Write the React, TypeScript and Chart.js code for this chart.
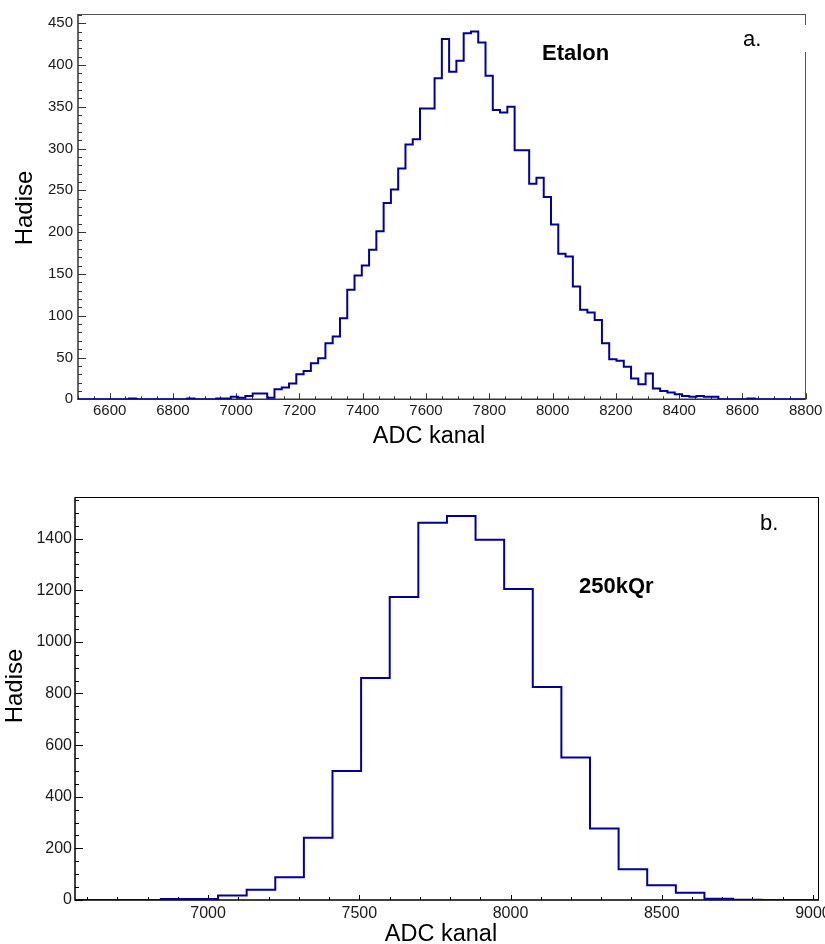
import React, { useEffect, useRef } from "react";
import { Chart, registerables } from "chart.js";

Chart.register(...registerables);

const FONT = "'Liberation Sans', Arial, Helvetica, sans-serif";
const LINE_COLOR = "#00009c";

// ---------- Panel a: Etalon ----------
const A_BIN_START = 6500;
const A_BIN_WIDTH = 23;
const A_COUNTS = [
  0, 0, 0, 0, 0, 0, 0, 1, 0, 0,
  0, 0, 0, 0, 0, 1, 0, 0, 0, 1,
  1, 3, 2, 4, 7, 7, 2, 12, 14, 19,
  30, 34, 43, 49, 67, 75, 97, 131, 148, 160,
  179, 201, 235, 251, 276, 305, 311, 348, 348, 384,
  431, 392, 405, 438, 440, 427, 387, 346, 343, 350,
  298, 298, 258, 265, 242, 209, 174, 171, 135, 107,
  104, 95, 67, 48, 46, 39, 25, 18, 31, 13,
  10, 8, 6, 4, 3, 4, 3, 3, 0, 0,
  0, 0, 1, 0, 0, 0, 0, 0, 0, 0,
];
const A_X_MIN = 6500;
const A_X_MAX = 8800;
const A_Y_MIN = 0;
const A_Y_MAX = 461;
const A_X_TICKS = [6600, 6800, 7000, 7200, 7400, 7600, 7800, 8000, 8200, 8400, 8600, 8800];
const A_Y_TICKS = [0, 50, 100, 150, 200, 250, 300, 350, 400, 450];
const A_X_TITLE = "ADC kanal";
const A_Y_TITLE = "Hadise";
const A_LABEL = "Etalon";
const A_TAG = "a.";

// ---------- Panel b: 250kQr ----------
const B_BIN_START = 6560;
const B_BIN_WIDTH = 94.6;
const B_COUNTS = [
  0, 0, 0, 4, 4, 17, 40, 88, 241, 500,
  860, 1174, 1461, 1488, 1396, 1205, 825, 552, 277, 119,
  57, 28, 5, 1, 0, 0,
];
const B_X_MIN = 6560;
const B_X_MAX = 9020;
const B_Y_MIN = 0;
const B_Y_MAX = 1560;
const B_X_TICKS = [7000, 7500, 8000, 8500, 9000];
const B_Y_TICKS = [0, 200, 400, 600, 800, 1000, 1200, 1400];
const B_X_TITLE = "ADC kanal";
const B_Y_TITLE = "Hadise";
const B_LABEL = "250kQr";
const B_TAG = "b.";

function histPoints(start: number, width: number, counts: number[]) {
  const pts = counts.map((c, i) => ({ x: start + i * width, y: c }));
  pts.push({ x: start + counts.length * width, y: counts[counts.length - 1] });
  return pts;
}

type Txt = { text: string; x: number; y: number; size: number; bold?: boolean; align?: CanvasTextAlign; rotate?: boolean; color?: string };

type PanelCfg = {
  pageTop: number;
  width: number;
  height: number;
  area: { left: number; top: number; right: number; bottom: number };
  binStart: number;
  binWidth: number;
  counts: number[];
  xMin: number; xMax: number; yMin: number; yMax: number;
  xTicks: number[]; yTicks: number[];
  xMinor: number; yMinor: number;
  xMajLen: number; xMinLen: number; yMajLen: number; yMinLen: number;
  axisColor: string; boxColor: string;
  xPad: number; yPad: number;
  tickFont: number;
  texts: Txt[];
  gap?: { x: number; y: number; w: number; h: number };
};

const PANEL_A: PanelCfg = {
  pageTop: 0,
  width: 825,
  height: 470,
  area: { left: 78, top: 14, right: 805.7, bottom: 399.3 },
  binStart: A_BIN_START,
  binWidth: A_BIN_WIDTH,
  counts: A_COUNTS,
  xMin: A_X_MIN, xMax: A_X_MAX, yMin: A_Y_MIN, yMax: A_Y_MAX,
  xTicks: A_X_TICKS, yTicks: A_Y_TICKS,
  xMinor: 50, yMinor: 10,
  xMajLen: 6, xMinLen: 3, yMajLen: 8, yMinLen: 4,
  axisColor: "#333333", boxColor: "#555555",
  xPad: 3, yPad: 5,
  tickFont: 15,
  texts: [
    { text: A_X_TITLE, x: 429, y: 443, size: 23.5, align: "center" },
    { text: A_Y_TITLE, x: 32, y: 208, size: 24, align: "center", rotate: true },
    { text: A_LABEL, x: 542, y: 60, size: 22, bold: true, align: "left" },
    { text: A_TAG, x: 743, y: 46, size: 22, align: "left" },
  ],
  gap: { x: 735, y: 25, w: 80, h: 27 },
};

const PANEL_B: PanelCfg = {
  pageTop: 470,
  width: 825,
  height: 474,
  area: { left: 75, top: 27.3, right: 819, bottom: 430 },
  binStart: B_BIN_START,
  binWidth: B_BIN_WIDTH,
  counts: B_COUNTS,
  xMin: B_X_MIN, xMax: B_X_MAX, yMin: B_Y_MIN, yMax: B_Y_MAX,
  xTicks: B_X_TICKS, yTicks: B_Y_TICKS,
  xMinor: 100, yMinor: 50,
  xMajLen: 5, xMinLen: 3, yMajLen: 8, yMinLen: 4,
  axisColor: "#000000", boxColor: "#000000",
  xPad: 4, yPad: 3,
  tickFont: 16,
  texts: [
    { text: B_X_TITLE, x: 441, y: 471, size: 23.5, align: "center" },
    { text: B_Y_TITLE, x: 22, y: 216, size: 24, align: "center", rotate: true },
    { text: B_LABEL, x: 579, y: 123, size: 22, bold: true, align: "left" },
    { text: B_TAG, x: 760, y: 60, size: 22, align: "left" },
  ],
};

function Panel({ cfg }: { cfg: PanelCfg }) {
  const ref = useRef<HTMLCanvasElement>(null);

  useEffect(() => {
    const c = cfg;
    const canvas = ref.current;
    if (!canvas) return;
    const W = c.width;
    const H = c.height;

    const framePlugin = {
      id: "rootFrame",
      beforeDatasetsDraw(chart: any) {
        const ctx = chart.ctx as CanvasRenderingContext2D;
        const a = chart.chartArea;
        const xs = chart.scales.x;
        const ys = chart.scales.y;
        ctx.save();
        ctx.strokeStyle = c.axisColor;
        ctx.lineWidth = 1;
        ctx.beginPath();
        for (let v = Math.ceil(c.xMin / c.xMinor) * c.xMinor; v <= c.xMax + 1e-6; v += c.xMinor) {
          const px = Math.round(xs.getPixelForValue(v)) + 0.5;
          const len = c.xTicks.includes(v) ? c.xMajLen : c.xMinLen;
          ctx.moveTo(px, a.bottom);
          ctx.lineTo(px, a.bottom - len);
        }
        for (let v = Math.ceil(c.yMin / c.yMinor) * c.yMinor; v <= c.yMax + 1e-6; v += c.yMinor) {
          const py = Math.round(ys.getPixelForValue(v)) + 0.5;
          const len = c.yTicks.includes(v) ? c.yMajLen : c.yMinLen;
          ctx.moveTo(a.left, py);
          ctx.lineTo(a.left + len, py);
        }
        ctx.stroke();
        ctx.strokeStyle = c.boxColor;
        ctx.beginPath();
        ctx.moveTo(a.left, Math.round(a.top) + 0.5);
        ctx.lineTo(a.right, Math.round(a.top) + 0.5);
        ctx.moveTo(Math.round(a.right) - 0.5, a.top);
        ctx.lineTo(Math.round(a.right) - 0.5, a.bottom);
        ctx.stroke();
        ctx.strokeStyle = c.axisColor;
        ctx.lineWidth = 1.5;
        ctx.beginPath();
        ctx.moveTo(Math.round(a.left), a.top);
        ctx.lineTo(Math.round(a.left), a.bottom);
        ctx.lineTo(a.right, a.bottom);
        ctx.stroke();
        ctx.restore();
      },
      afterDatasetsDraw(chart: any) {
        const ctx = chart.ctx as CanvasRenderingContext2D;
        ctx.save();
        if (c.gap) {
          ctx.fillStyle = "#ffffff";
          ctx.fillRect(c.gap.x, c.gap.y, c.gap.w, c.gap.h);
        }
        for (const t of c.texts) {
          ctx.save();
          ctx.fillStyle = t.color || "#000000";
          ctx.font = `${t.bold ? "bold " : ""}${t.size}px ${FONT}`;
          ctx.textAlign = t.align || "left";
          ctx.textBaseline = "alphabetic";
          ctx.translate(t.x, t.y);
          if (t.rotate) ctx.rotate(-Math.PI / 2);
          ctx.fillText(t.text, 0, 0);
          ctx.restore();
        }
        ctx.restore();
      },
    };

    const chart = new Chart(canvas, {
      type: "line",
      data: {
        datasets: [
          {
            data: histPoints(c.binStart, c.binWidth, c.counts),
            borderColor: LINE_COLOR,
            borderWidth: 2,
            pointRadius: 0,
            stepped: "before",
            fill: false,
            tension: 0,
          },
        ],
      },
      options: {
        responsive: false,
        animation: false,
        events: [],
        parsing: false as any,
        layout: {
          padding: { left: 0, top: c.area.top, right: W - c.area.right, bottom: 0 },
        },
        plugins: {
          legend: { display: false },
          tooltip: { enabled: false },
        },
        scales: {
          x: {
            type: "linear",
            min: c.xMin,
            max: c.xMax,
            grid: { display: false, drawTicks: false, tickLength: 0 },
            border: { display: false },
            afterBuildTicks: (s: any) => {
              s.ticks = c.xTicks.map((v) => ({ value: v }));
            },
            afterFit: (s: any) => {
              s.height = H - c.area.bottom;
              s.paddingLeft = 0;
              s.paddingRight = 0;
            },
            ticks: {
              autoSkip: false,
              maxRotation: 0,
              minRotation: 0,
              padding: c.xPad,
              color: "#1a1a1a",
              font: { family: FONT, size: c.tickFont },
              callback: (v: any) => String(v),
            },
          },
          y: {
            type: "linear",
            min: c.yMin,
            max: c.yMax,
            grid: { display: false, drawTicks: false, tickLength: 0 },
            border: { display: false },
            afterBuildTicks: (s: any) => {
              s.ticks = c.yTicks.map((v) => ({ value: v }));
            },
            afterFit: (s: any) => {
              s.width = c.area.left;
              s.paddingTop = 0;
              s.paddingBottom = 0;
            },
            ticks: {
              autoSkip: false,
              padding: c.yPad,
              color: "#1a1a1a",
              font: { family: FONT, size: c.tickFont },
              callback: (v: any) => String(v),
            },
          },
        },
      },
      plugins: [framePlugin],
    } as any);

    return () => chart.destroy();
  }, [cfg]);

  return (
    <canvas
      ref={ref}
      width={cfg.width}
      height={cfg.height}
      style={{ position: "absolute", left: 0, top: cfg.pageTop, width: cfg.width, height: cfg.height, display: "block" }}
    />
  );
}

export default function App() {
  return (
    <div>
      <Panel cfg={PANEL_A} />
      <Panel cfg={PANEL_B} />
    </div>
  );
}
